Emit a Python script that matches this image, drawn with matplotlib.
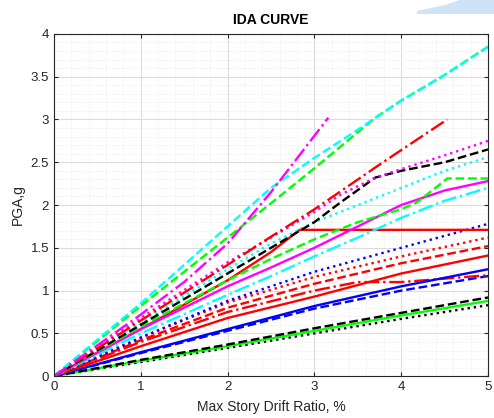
import matplotlib
matplotlib.use("Agg")
import matplotlib.pyplot as plt
from matplotlib.patches import Polygon
from matplotlib.ticker import MultipleLocator, FormatStrFormatter

# ---- data (drift %, PGA g) ----
x_mag_dd = [0, 1, 1.5, 2, 2.5, 3.16]
y_mag_dd = [0, 0.72, 1.1, 1.55, 2.15, 3.02]

x_cyan_d = [0, 1, 2, 2.5, 3, 3.5, 4, 4.5, 5]
y_cyan_d = [0, 0.85, 1.75, 2.2, 2.55, 2.88, 3.22, 3.52, 3.85]

x_green_d = [0, 1, 2, 2.5, 3, 3.5, 3.7, 4, 4.5, 5]
y_green_d = [0, 0.82, 1.62, 2.02, 2.43, 2.85, 3.02, 3.22, 3.52, 3.85]

x_red_dd = [0, 1, 2, 2.5, 3, 3.79, 4.53]
y_red_dd = [0, 0.65, 1.3, 1.63, 1.95, 2.5, 3.0]

x_mag_dot = [0, 1, 2, 2.5, 3, 3.3, 3.7, 4, 4.5, 5]
y_mag_dot = [0, 0.68, 1.33, 1.62, 1.92, 2.12, 2.32, 2.42, 2.58, 2.75]

x_blk_d = [0, 1, 2, 2.5, 3, 3.3, 3.7, 4, 4.5, 5]
y_blk_d = [0, 0.6, 1.2, 1.5, 1.8, 2.03, 2.32, 2.4, 2.5, 2.65]

x_cyan_dot = [0, 1, 2, 2.5, 3, 3.5, 4, 4.5, 5]
y_cyan_dot = [0, 0.62, 1.25, 1.55, 1.8, 2.0, 2.2, 2.4, 2.56]

x_green_pl = [0, 1, 2, 2.5, 3, 3.5, 4, 4.18, 4.53, 5]
y_green_pl = [0, 0.58, 1.12, 1.37, 1.6, 1.8, 1.95, 2.03, 2.31, 2.31]

x_mag_sol = [0, 1, 2, 2.5, 3, 3.5, 4, 4.5, 5]
y_mag_sol = [0, 0.55, 1.05, 1.27, 1.5, 1.75, 2.0, 2.17, 2.28]

x_cyan_dd = [0, 1, 2, 2.5, 3, 3.5, 4, 4.5, 5]
y_cyan_dd = [0, 0.5, 0.95, 1.17, 1.4, 1.62, 1.85, 2.05, 2.2]

x_red_pl = [0, 1, 2, 2.5, 2.83, 5]
y_red_pl = [0, 0.55, 1.12, 1.45, 1.71, 1.71]

x_blue_dot = [0, 1, 2, 3, 4, 5]
y_blue_dot = [0, 0.45, 0.88, 1.22, 1.5, 1.78]

x_red_dot = [0, 1, 2, 3, 4, 5]
y_red_dot = [0, 0.45, 0.86, 1.16, 1.4, 1.62]

x_red_d = [0, 1, 2, 3, 4, 5]
y_red_d = [0, 0.42, 0.8, 1.08, 1.32, 1.52]

x_red_sol = [0, 1, 2, 3, 4, 5]
y_red_sol = [0, 0.35, 0.68, 0.93, 1.2, 1.41]

x_blue_sol = [0, 1, 2, 3, 4, 5]
y_blue_sol = [0, 0.28, 0.55, 0.82, 1.05, 1.25]

x_red_dd2 = [0, 1, 2, 3, 3.5, 4, 5]
y_red_dd2 = [0, 0.4, 0.75, 1.0, 1.1, 1.1, 1.18]

x_blue_d = [0, 1, 2, 3, 4, 5]
y_blue_d = [0, 0.27, 0.53, 0.79, 1.0, 1.17]

x_blk_d2 = [0, 1, 2, 3, 4, 5]
y_blk_d2 = [0, 0.19, 0.37, 0.56, 0.74, 0.92]

x_green_sol = [0, 1, 2, 3, 4, 5]
y_green_sol = [0, 0.18, 0.35, 0.53, 0.71, 0.88]

x_blk_dot = [0, 1, 2, 3, 4, 5]
y_blk_dot = [0, 0.165, 0.33, 0.5, 0.67, 0.83]

series = [
    (x_blk_dot, y_blk_dot, 'k', ':'),
    (x_green_sol, y_green_sol, '#00ff00', '-'),
    (x_blk_d2, y_blk_d2, 'k', '--'),
    (x_blue_d, y_blue_d, '#0000ff', '--'),
    (x_red_dd2, y_red_dd2, '#ff0000', '-.'),
    (x_blue_sol, y_blue_sol, '#0000ff', '-'),
    (x_red_sol, y_red_sol, '#ff0000', '-'),
    (x_red_d, y_red_d, '#ff0000', '--'),
    (x_red_dot, y_red_dot, '#ff0000', ':'),
    (x_blue_dot, y_blue_dot, '#0000ff', ':'),
    (x_red_pl, y_red_pl, '#ff0000', '-'),
    (x_cyan_dd, y_cyan_dd, '#00ffff', '-.'),
    (x_mag_sol, y_mag_sol, '#ff00ff', '-'),
    (x_green_pl, y_green_pl, '#00ff00', '--'),
    (x_cyan_dot, y_cyan_dot, '#00ffff', ':'),
    (x_blk_d, y_blk_d, 'k', '--'),
    (x_mag_dot, y_mag_dot, '#ff00ff', ':'),
    (x_red_dd, y_red_dd, '#ff0000', '-.'),
    (x_green_d, y_green_d, '#00ff00', '--'),
    (x_cyan_d, y_cyan_d, '#00ffff', '--'),
    (x_mag_dd, y_mag_dd, '#ff00ff', '-.'),
]

plt.rcParams['font.family'] = ['Liberation Sans', 'DejaVu Sans']

fig = plt.figure(figsize=(4.94, 4.18), dpi=100)
ax = fig.add_axes([0.109, 0.100, 0.879, 0.819])

for xs, ys, c, ls in series:
    ax.plot(xs, ys, color=c, linestyle=ls, linewidth=1.7)

ax.set_xlim(0, 5)
ax.set_ylim(0, 4)
ax.xaxis.set_major_locator(MultipleLocator(1))
ax.yaxis.set_major_locator(MultipleLocator(0.5))
ax.xaxis.set_minor_locator(MultipleLocator(0.2))
ax.yaxis.set_minor_locator(MultipleLocator(0.1))
ax.xaxis.set_major_formatter(FormatStrFormatter('%g'))
ax.yaxis.set_major_formatter(FormatStrFormatter('%g'))
ax.grid(True, which='major', color='#dcdcdc', linewidth=0.8)
ax.grid(True, which='minor', color='#e8e8e8', linewidth=0.6, linestyle=':')
ax.set_axisbelow(True)
ax.tick_params(which='both', direction='in', top=True, right=True,
               labelsize=9.5, colors='#262626', length=3)
ax.tick_params(which='minor', length=0)
for s in ax.spines.values():
    s.set_color('#262626')
    s.set_linewidth(0.8)
ax.set_title('IDA CURVE', fontsize=10, fontweight='bold', pad=7)
ax.set_xlabel('Max Story Drift Ratio, %', fontsize=10, color='#262626', labelpad=5)
ax.set_ylabel('PGA,g', fontsize=10, color='#262626', labelpad=4)

# light blue decoration at top right
W, H = 494, 418
pts = [(417, 11), (445, 5), (460, 0), (494, 0), (494, 14), (417, 14)]
poly = Polygon([(px / W, 1 - py / H) for px, py in pts], closed=True,
               transform=fig.transFigure, facecolor='#cfe3f7', edgecolor='none')
fig.patches.append(poly)

fig.savefig('out.png', dpi=100)
